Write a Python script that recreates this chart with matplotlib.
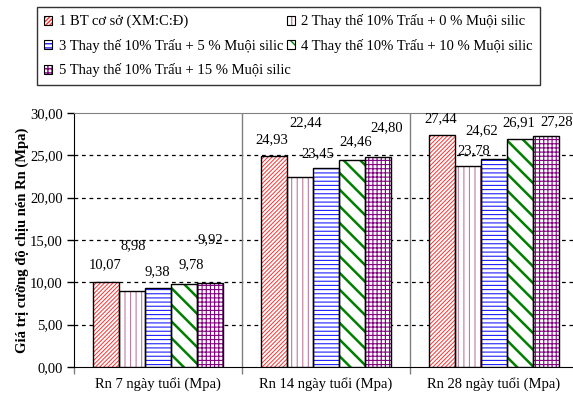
import matplotlib
matplotlib.use("Agg")
import numpy as np
import matplotlib.pyplot as plt
from matplotlib.patches import Patch
from matplotlib.ticker import FuncFormatter, FixedLocator

plt.rcParams["font.family"] = ["Liberation Serif", "DejaVu Serif"]
plt.rcParams["font.size"] = 10

# data
categories = ["Rn 7 ngày tuổi (Mpa)", "Rn 14 ngày tuổi (Mpa)", "Rn 28 ngày tuổi (Mpa)"]
series_names = [
    "1 BT cơ sở (XM:C:Đ)",
    "2 Thay thế 10% Trấu + 0 % Muội silic",
    "3 Thay thế 10% Trấu + 5 % Muội silic",
    "4 Thay thế 10% Trấu + 10 % Muội silic",
    "5 Thay thế 10% Trấu + 15 % Muội silic",
]
s1 = [10.07, 24.93, 27.44]
s2 = [8.98, 22.44, 23.78]
s3 = [9.38, 23.45, 24.62]
s4 = [9.78, 24.46, 26.91]
s5 = [9.92, 24.80, 27.28]
series = [s1, s2, s3, s4, s5]
y_ticks = [0, 5, 10, 15, 20, 25, 30]

# styles
hatch_colors = ["#ff3030", "#c07a9e", "#1f1fff", "#008000", "#800080"]
hatches = ["////////", "|||", "----", "\\\\", "++++"]
hatch_lw = [0.7, 0.8, 0.8, 1.8, 0.8]
# label offsets in pixels (dx, dy) from bar top centre, as placed in the source chart
label_offsets = [
    [(-1, 17), (-2, 16), (-2, 16)],
    [(1, 45), (6, 54), (6, 15)],
    [(-1, 16), (-8, 15), (-12, 28)],
    [(7, 20), (4, 18), (-1, 16)],
    [(1, 43), (9, 29), (11, 14)],
]

fig = plt.figure(figsize=(5.73, 3.99), dpi=100)
ax = fig.add_axes([74 / 573, 1 - 367 / 399, 504 / 573, 254 / 399])

x = np.arange(len(categories)) + 0.5
w = 0.154
for i, vals in enumerate(series):
    pos = x + (i - 2) * w
    with plt.rc_context({"hatch.linewidth": hatch_lw[i]}):
        ax.bar(pos, vals, w, color="white", edgecolor=hatch_colors[i],
               hatch=hatches[i], linewidth=0, zorder=3)
    ax.bar(pos, vals, w, fill=False, edgecolor="black", linewidth=1.0, zorder=4)
    for j, v in enumerate(vals):
        dx, dy = label_offsets[i][j]
        ax.annotate(f"{v:.2f}".replace(".", ","), (pos[j], v),
                    xytext=(dx, dy), textcoords="offset pixels",
                    ha="center", va="center", fontsize=10.5, zorder=5)

ax.set_xlim(0, 3)
ax.set_ylim(0, 30)
ax.yaxis.set_major_locator(FixedLocator(y_ticks))
ax.yaxis.set_major_formatter(FuncFormatter(lambda v, p: f"{v:.2f}".replace(".", ",")))
ax.tick_params(axis="y", direction="out", length=5, width=1, labelsize=10.5, pad=3)
ax.set_xticks(x)
ax.set_xticklabels(categories, fontsize=10.5)
ax.tick_params(axis="x", length=0, pad=7)
ax.set_xticks([0, 1, 2, 3], minor=True)
ax.tick_params(axis="x", which="minor", direction="out", length=5, color="#808080", width=1)

for yv in y_ticks[1:-1]:
    ax.axhline(yv, color="black", linestyle=(0, (3, 3)), linewidth=0.9, zorder=1)
for xv in [1, 2]:
    ax.axvline(xv, color="#808080", linewidth=1.0, zorder=1)

ax.spines["left"].set_color("black")
ax.spines["bottom"].set_color("black")
ax.spines["top"].set_color("#808080")
ax.spines["right"].set_color("#808080")
ax.set_ylabel("Giá trị cường độ chịu nén Rn (Mpa)", fontweight="bold", fontsize=10.5, labelpad=1)

# legend: coloured hatch plus black outline in one handle
handles = []
for i in range(5):
    with plt.rc_context({"hatch.linewidth": hatch_lw[i]}):
        fill = Patch(facecolor="white", edgecolor=hatch_colors[i], hatch=hatches[i], linewidth=0)
    border = Patch(fill=False, edgecolor="black", linewidth=0.8)
    handles.append((fill, border))
order = [0, 2, 4, 1, 3]
leg = fig.legend([handles[k] for k in order], [series_names[k] for k in order],
                 loc="upper left", ncol=2, mode="expand",
                 bbox_to_anchor=(37 / 573, 1 - 85 / 399, 503 / 573, 78 / 399),
                 frameon=True, fancybox=False, edgecolor="black", fontsize=10.5,
                 handlelength=0.55, handleheight=0.55, handletextpad=0.45,
                 labelspacing=0.72, borderpad=0.5, borderaxespad=0)
leg.get_frame().set_linewidth(1.0)

fig.savefig("out.png", dpi=100)
